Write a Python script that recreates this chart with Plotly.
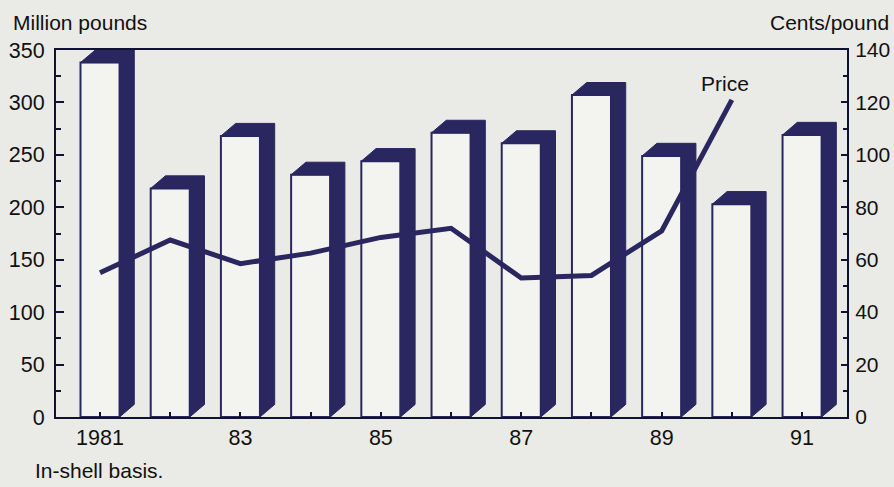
import plotly.graph_objects as go

years = [1981, 1982, 1983, 1984, 1985, 1986, 1987, 1988, 1989, 1990, 1991]
production = [338, 218, 268, 231, 244, 271, 261, 307, 249, 203, 269]
price_years = [1981, 1982, 1983, 1984, 1985, 1986, 1987, 1988, 1989, 1990]
price = [55, 67.5, 58.5, 62.5, 68.5, 72, 53, 54, 71, 121]
tick_vals = [1981, 1983, 1985, 1987, 1989, 1991]
tick_text = ["1981", "83", "85", "87", "89", "91"]

NAVY = "#2a2660"
BG = "#eaeae6"
FACE = "#f3f3f0"
AX = "#111133"
FONT = "Liberation Sans, Arial, sans-serif"

bar_w = 0.556
dx = 0.21
dy = 12

# 3D side+top polygons computed from data
px, py = [], []
for x, v in zip(years, production):
    xl = x - bar_w / 2
    xr = x + bar_w / 2
    px += [xl, xl + dx, xr + dx, xr + dx, xr, xr, xl, None]
    py += [v, v + dy, v + dy, dy, 0, v, v, None]

fig = go.Figure()
fig.add_trace(go.Bar(
    x=years, y=production, width=bar_w,
    marker=dict(color=FACE, line=dict(color=NAVY, width=2)),
    showlegend=False, hoverinfo="skip",
))
fig.add_trace(go.Scatter(
    x=px, y=py, mode="lines", fill="toself", fillcolor=NAVY,
    line=dict(color=NAVY, width=1), showlegend=False, hoverinfo="skip",
))
fig.add_trace(go.Scatter(
    x=price_years, y=price, yaxis="y2", mode="lines",
    line=dict(color=NAVY, width=5), showlegend=False,
))

W, H = 894, 487
l, r, t, b = 56, 47, 50, 70
pw, ph = W - l - r, H - t - b


def paper_x(px_):
    return (px_ - l) / pw


def paper_y(py_):
    return (H - b - py_) / ph


fig.update_layout(
    width=W, height=H,
    margin=dict(l=l, r=r, t=t, b=b, autoexpand=False),
    paper_bgcolor=BG, plot_bgcolor=BG,
    font=dict(family=FONT, size=22, color="#111111"),
    xaxis=dict(
        range=[1980.373, 1991.64], showgrid=False, zeroline=False,
        showline=True, linecolor=AX, linewidth=2, mirror=True, automargin=False,
        tickmode="array", tickvals=years,
        ticktext=[tick_text[tick_vals.index(y)] if y in tick_vals else "" for y in years],
        ticks="inside", ticklen=5, tickwidth=1.5, tickcolor=AX,
        tickfont=dict(size=21.5),
    ),
    yaxis=dict(
        range=[0, 350], dtick=50, showgrid=False, zeroline=False,
        showline=True, linecolor=AX, linewidth=2, automargin=False,
        ticks="inside", ticklen=8, tickwidth=1.5, tickcolor=AX,
        minor=dict(dtick=25, ticks="inside", ticklen=5, tickwidth=1.5, tickcolor=AX),
        tickfont=dict(size=21.5), ticklabelstandoff=5,
    ),
    yaxis2=dict(
        range=[0, 140], dtick=20, overlaying="y", side="right",
        showgrid=False, zeroline=False, automargin=False,
        showline=True, linecolor=AX, linewidth=2,
        ticks="inside", ticklen=6, tickwidth=1.5, tickcolor=AX,
        minor=dict(dtick=10, ticks="inside", ticklen=4, tickwidth=1.5, tickcolor=AX),
        tickfont=dict(size=21), ticklabelstandoff=2,
    ),
    annotations=[
        dict(text="Million pounds", x=paper_x(11), y=paper_y(23), xref="paper", yref="paper",
             showarrow=False, xanchor="left", yanchor="middle", font=dict(size=21)),
        dict(text="Cents/pound", x=paper_x(891), y=paper_y(23), xref="paper", yref="paper",
             showarrow=False, xanchor="right", yanchor="middle", font=dict(size=21)),
        dict(text="In-shell basis.", x=paper_x(33), y=paper_y(470), xref="paper", yref="paper",
             showarrow=False, xanchor="left", yanchor="middle", font=dict(size=21)),
        dict(text="Price", x=1989.9, y=127.4, xref="x", yref="y2", showarrow=False,
             xanchor="center", yanchor="middle", font=dict(size=21)),
    ],
)

fig.write_html("out.html", config={"displayModeBar": False},
               post_script="document.body.style.margin='0';document.body.style.overflow='hidden';")
